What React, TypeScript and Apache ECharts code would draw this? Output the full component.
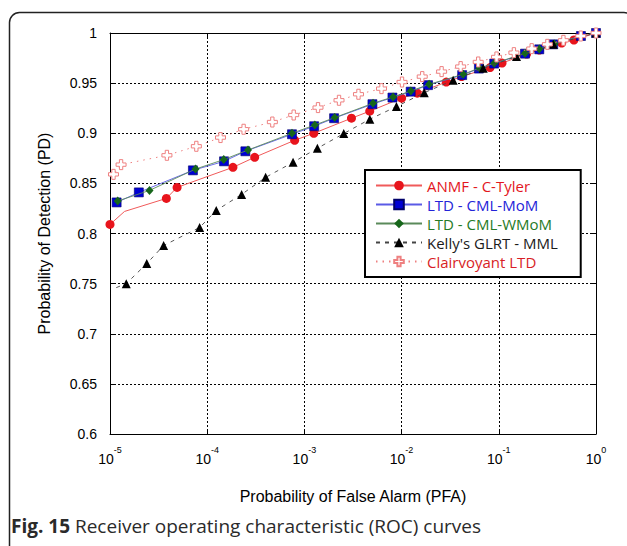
import React, { useEffect, useRef } from "react";
import * as echarts from "echarts";

// ---- data ----
const anmfPfa = [1e-5, 1.41e-5, 3.8e-5, 4.9e-5, 1.84e-4, 3.08e-4, 7.94e-4, 1.25e-3, 3.05e-3, 4.7e-3, 1.0e-2, 1.45e-2, 2.88e-2, 4.14e-2, 8.13e-2, 0.108, 0.193, 0.261, 0.444, 0.593, 1];
const anmfPd = [0.809, 0.822, 0.835, 0.846, 0.866, 0.876, 0.893, 0.9, 0.915, 0.922, 0.935, 0.94, 0.951, 0.9565, 0.9655, 0.97, 0.979, 0.983, 0.99, 0.993, 1];
const anmfNoMarker = [1];

const momPfa = [1.17e-5, 1.98e-5, 7.13e-5, 1.49e-4, 2.47e-4, 7.45e-4, 1.26e-3, 2.02e-3, 5.01e-3, 8.05e-3, 1.24e-2, 1.87e-2, 4.2e-2, 6.24e-2, 8.97e-2, 0.186, 0.261, 0.363, 0.7, 1];
const momPd = [0.831, 0.841, 0.863, 0.872, 0.882, 0.899, 0.907, 0.915, 0.929, 0.9356, 0.9415, 0.948, 0.958, 0.9645, 0.9695, 0.9794, 0.9837, 0.9887, 0.997, 1];

const wmomPfa = [1.2e-5, 2.55e-5, 7.59e-5, 1.48e-4, 2.63e-4, 7.45e-4, 1.28e-3, 2.05e-3, 5.08e-3, 8.17e-3, 1.245e-2, 1.92e-2, 4.3e-2, 6.31e-2, 8.97e-2, 0.186, 0.261, 0.372, 0.7, 1];
const wmomPd = [0.8324, 0.843, 0.8643, 0.8737, 0.8833, 0.9, 0.9082, 0.9156, 0.9299, 0.9362, 0.9421, 0.9488, 0.9588, 0.965, 0.9698, 0.9797, 0.984, 0.989, 0.997, 1];

const kellyPfa = [1.16e-5, 1.47e-5, 2.39e-5, 3.56e-5, 8.36e-5, 1.24e-4, 2.26e-4, 3.99e-4, 7.64e-4, 1.36e-3, 2.54e-3, 4.71e-3, 8.85e-3, 1.71e-2, 3.39e-2, 6.92e-2, 0.152, 0.363, 1];
const kellyPd = [0.746, 0.75, 0.77, 0.788, 0.806, 0.823, 0.839, 0.856, 0.871, 0.885, 0.8997, 0.914, 0.9266, 0.9405, 0.9528, 0.9648, 0.9765, 0.9887, 1];
const kellyNoMarker = [0];

const clairPfa = [1e-5, 1.086e-5, 1.3e-5, 3.85e-5, 7.73e-5, 1.37e-4, 2.37e-4, 4.68e-4, 7.76e-4, 1.38e-3, 2.27e-3, 3.6e-3, 6.21e-3, 1.01e-2, 1.63e-2, 2.58e-2, 4.05e-2, 6.14e-2, 9.48e-2, 0.143, 0.218, 0.316, 0.462, 0.697, 1];
const clairPd = [0.857, 0.859, 0.8687, 0.878, 0.887, 0.8957, 0.904, 0.9112, 0.9182, 0.9256, 0.9329, 0.9389, 0.9445, 0.9511, 0.9565, 0.9615, 0.9665, 0.9711, 0.9761, 0.9804, 0.9844, 0.9887, 0.9927, 0.997, 1];
const clairNoMarker = [0];

const seriesNames = ["ANMF - C-Tyler", "LTD - CML-MoM", "LTD - CML-WMoM", "Kelly's GLRT - MML", "Clairvoyant LTD"];
const legendColors = ["#e3161d", "#2323d8", "#257a25", "#1a1a1a", "#d81e26"];

const xTitle = "Probability of False Alarm (PFA)";
const yTitle = "Probability of Detection (PD)";
const captionBold = "Fig. 15";
const captionText = "Receiver operating characteristic (ROC) curves";

const PLUS = "path://M3,0H6V3H9V6H6V9H3V6H0V3H3Z";

function build(xs: number[], ys: number[], hidden: number[] = []) {
  return xs.map((x, i) =>
    hidden.indexOf(i) >= 0 ? { value: [x, ys[i]], symbol: "none" } : { value: [x, ys[i]] }
  );
}

export default function App() {
  const ref = useRef<HTMLDivElement>(null);
  useEffect(() => {
    if (!ref.current) return;
    const chart = echarts.init(ref.current, undefined, { renderer: "svg" });
    const tickFont = "Liberation Sans";
    const axisCommon = {
      type: "log" as const,
      logBase: 10,
      min: 1e-5,
      max: 1,
    };
    chart.setOption({
      animation: false,
      backgroundColor: "#fff",
      grid: { left: 110, right: 31, top: 33, bottom: 112, containLabel: false },
      legend: {
        orient: "vertical",
        left: 365,
        top: 170,
        padding: [8, 23, 8, 10],
        itemWidth: 46,
        itemHeight: 12,
        itemGap: 4,
        borderColor: "#000",
        borderWidth: 2,
        backgroundColor: "#fff",
        selectedMode: false,
        textStyle: { fontFamily: "Open Sans", fontSize: 15 },
        data: seriesNames.map((n, i) => ({ name: n, textStyle: { color: legendColors[i] } })),
      },
      xAxis: [
        {
          ...axisCommon,
          position: "bottom",
          axisLine: { show: true, lineStyle: { color: "#000", width: 1 } },
          axisTick: { show: true, inside: true, length: 5, lineStyle: { color: "#000" } },
          minorTick: { show: false },
          splitLine: { show: true, lineStyle: { color: "#000", type: [2, 2], width: 1 } },
          axisLabel: {
            margin: 11,
            formatter: (v: number) => `{b|10}{s|${Math.round(Math.log10(v))}}`,
            rich: {
              b: { fontFamily: tickFont, fontSize: 14, color: "#000", lineHeight: 21, verticalAlign: "bottom" },
              s: { fontFamily: tickFont, fontSize: 9, color: "#000", verticalAlign: "top" },
            },
          },
          name: xTitle,
          nameLocation: "middle",
          nameGap: 54,
          nameTextStyle: { fontFamily: tickFont, fontSize: 16, color: "#000" },
        },
        {
          ...axisCommon,
          position: "top",
          axisLine: { show: true, lineStyle: { color: "#000", width: 1 } },
          axisTick: { show: true, inside: true, length: 5, lineStyle: { color: "#000" } },
          axisLabel: { show: false },
          splitLine: { show: false },
        },
      ],
      yAxis: [
        {
          type: "value",
          min: 0.6,
          max: 1,
          interval: 0.05,
          position: "left",
          axisLine: { show: true, lineStyle: { color: "#000", width: 1 } },
          axisTick: { show: true, inside: true, length: 5, lineStyle: { color: "#000" } },
          splitLine: { show: true, lineStyle: { color: "#000", type: [2, 2], width: 1 } },
          axisLabel: { margin: 13, fontFamily: tickFont, fontSize: 14, color: "#000" },
          name: yTitle,
          nameLocation: "middle",
          nameGap: 58,
          nameRotate: 90,
          nameTextStyle: { fontFamily: tickFont, fontSize: 16, color: "#000" },
        },
        {
          type: "value",
          min: 0.6,
          max: 1,
          interval: 0.05,
          position: "right",
          axisLine: { show: true, lineStyle: { color: "#000", width: 1 } },
          axisTick: { show: true, inside: true, length: 5, lineStyle: { color: "#000" } },
          splitLine: { show: false },
          axisLabel: { show: false },
        },
      ],
      series: [
        {
          name: seriesNames[0],
          type: "line",
          data: build(anmfPfa, anmfPd, anmfNoMarker),
          symbol: "circle",
          symbolSize: 9,
          itemStyle: { color: "#e8141c" },
          lineStyle: { color: "#f05a5a", width: 1 },
          z: 2,
        },
        {
          name: seriesNames[1],
          type: "line",
          data: build(momPfa, momPd),
          symbol: "rect",
          symbolSize: 9,
          itemStyle: { color: "#0000d4", borderColor: "#00006a", borderWidth: 0.6 },
          lineStyle: { color: "#5a5ae6", width: 0.9 },
          z: 3,
        },
        {
          name: seriesNames[2],
          type: "line",
          data: build(wmomPfa, wmomPd),
          symbol: "diamond",
          symbolSize: [8, 9],
          itemStyle: { color: "#16661a" },
          lineStyle: { color: "#5a8a5a", width: 0.9 },
          z: 4,
        },
        {
          name: seriesNames[3],
          type: "line",
          data: build(kellyPfa, kellyPd, kellyNoMarker),
          symbol: "triangle",
          symbolSize: 9,
          itemStyle: { color: "#000" },
          lineStyle: { color: "#444", width: 0.9, type: [4, 5] },
          z: 5,
        },
        {
          name: seriesNames[4],
          type: "line",
          data: build(clairPfa, clairPd, clairNoMarker),
          symbol: PLUS,
          symbolSize: 10,
          itemStyle: { color: "#fff", borderColor: "#ee8080", borderWidth: 1 },
          lineStyle: { color: "#ee8080", width: 1, type: [1.5, 5] },
          z: 6,
        },
      ],
      graphic: [
        {
          type: "rect",
          silent: true,
          z: -10,
          shape: { x: 9.5, y: 12.5, width: 624.5, height: 600, r: [10, 10, 0, 0] },
          style: { fill: "none", stroke: "#222", lineWidth: 1.5 },
        },
        {
          type: "text",
          silent: true,
          x: 11,
          y: 526,
          style: {
            text: `{b|${captionBold}} ${captionText}`,
            fontFamily: "Open Sans",
            fontSize: 19,
            fill: "#2a2a2a",
            verticalAlign: "middle",
            rich: {
              b: { fontFamily: "Open Sans", fontSize: 19, fontWeight: "bold", fill: "#2a2a2a" },
            },
          },
        },
      ],
    });
    return () => chart.dispose();
  }, []);
  return (
    <div
      ref={ref}
      style={{ position: "fixed", left: 0, top: 0, width: 627, height: 546 }}
    />
  );
}
